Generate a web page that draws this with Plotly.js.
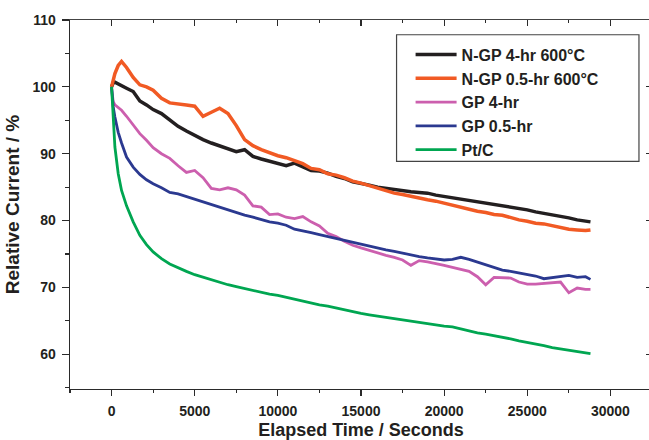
<!DOCTYPE html>
<html><head><meta charset="utf-8">
<script src="https://cdn.plot.ly/plotly-3.0.1.min.js"></script>
<style>html,body{margin:0;padding:0;overflow:hidden;background:#fff}#chart{width:660px;height:440px}</style>
</head><body><div id="chart"></div>
<script>
// Elapsed time (s)
const timeSec = [0,100,200,400,600,900,1300,1700,2100,2500,
  3000,3500,4000,4500,5000,5500,6000,6500,7000,7500,
  8000,8500,9000,9500,10000,10500,11000,11500,12000,12500,
  13000,13500,14000,14500,15000,15500,16000,16500,17000,17500,
  18000,18500,19000,19500,20000,20500,21000,21500,22000,22500,
  23000,23500,24000,24500,25000,25500,26000,26500,27000,27500,
  28000,28500,28800];

const ngp4hr = [100.0,100.6,100.7,100.4,100.2,99.8,99.3,97.9,97.3,96.6,
  96.0,95.1,94.1,93.4,92.7,92.1,91.6,91.2,90.7,90.3,
  90.6,89.6,89.2,88.9,88.5,88.2,88.6,88.0,87.5,87.4,
  87.1,86.6,86.3,85.8,85.6,85.3,85.0,84.8,84.6,84.5,
  84.3,84.2,84.1,83.8,83.6,83.4,83.3,83.1,82.9,82.7,
  82.5,82.3,82.0,81.8,81.6,81.3,81.1,80.9,80.6,80.4,
  80.1,79.9,79.8];

const ngp05hr = [100.0,101.0,102.0,103.2,103.8,102.9,101.4,100.3,100.0,99.5,
  98.3,97.6,97.5,97.3,97.1,95.6,96.2,96.8,96.0,94.2,
  92.1,91.2,90.6,90.1,89.7,89.4,89.0,88.5,87.8,87.6,
  87.0,86.8,86.4,85.9,85.6,85.2,84.8,84.5,84.1,83.9,
  83.6,83.4,83.1,82.9,82.6,82.3,82.0,81.6,81.4,81.2,
  80.9,80.8,80.4,80.1,79.9,79.6,79.5,79.2,78.9,78.7,
  78.6,78.5,78.6];

const gp4hr = [99.8,97.8,97.3,96.9,96.5,95.6,94.3,93.0,92.0,90.9,
  90.0,89.3,88.2,87.2,87.5,86.4,84.8,84.6,84.9,84.6,
  83.8,82.2,82.0,80.9,81.0,80.5,80.3,80.6,79.8,79.2,
  78.1,77.6,76.9,76.3,75.9,75.5,75.1,74.8,74.5,74.1,
  73.3,74.0,73.8,73.6,73.3,73.0,72.7,72.4,71.6,70.4,
  71.5,71.5,71.4,70.8,70.5,70.5,70.6,70.6,70.8,69.2,
  69.9,69.7,69.7];

const gp05hr = [100.0,97.0,95.5,93.2,91.6,89.5,88.0,86.9,86.1,85.5,
  84.9,84.2,84.0,83.6,83.1,82.7,82.3,82.0,81.6,81.2,
  80.8,80.5,80.1,79.8,79.6,79.3,78.7,78.5,78.2,77.9,
  77.6,77.3,77.0,76.7,76.5,76.2,75.9,75.6,75.4,75.1,
  74.8,74.6,74.4,74.3,74.1,74.2,74.5,74.2,73.8,73.5,
  73.0,72.6,72.4,72.2,71.9,71.7,71.3,71.5,71.6,71.8,
  71.5,71.6,71.2];

const ptc = [100.0,95.5,91.0,87.0,84.5,82.2,79.8,77.8,76.4,75.3,
  74.3,73.5,72.9,72.4,71.9,71.5,71.1,70.7,70.4,70.1,
  69.8,69.6,69.3,69.0,68.8,68.5,68.3,68.0,67.7,67.4,
  67.2,66.9,66.6,66.4,66.1,65.9,65.7,65.5,65.3,65.1,
  64.9,64.7,64.5,64.3,64.2,64.1,63.8,63.4,63.2,63.0,
  62.8,62.6,62.3,62.0,61.8,61.6,61.3,61.0,60.8,60.6,
  60.4,60.2,60.1];

const seriesNames = ['N-GP 4-hr 600°C','N-GP 0.5-hr 600°C','GP 4-hr','GP 0.5-hr','Pt/C'];
const seriesValues = [ngp4hr, ngp05hr, gp4hr, gp05hr, ptc];
const seriesColors = ['#231f20','#f15a24','#cc5fae','#2b3990','#00a651'];
const seriesWidths = [3.5, 3.5, 2.8, 2.8, 2.8];
// last series is plotted on the mirrored top/right axes (identical ranges) so that frame is drawn
const seriesXAxis = ['x','x','x','x','x2'];
const seriesYAxis = ['y','y','y','y','y2'];

const xRange = [-2500, 32500];
const yRange = [54.8, 110];

const FAM = '"Liberation Sans", Arial, sans-serif';
const axisColor = '#2a2a2a';

const traces = seriesValues.map((vals, i) => ({
  type: 'scatter', mode: 'lines',
  x: timeSec, y: vals, name: seriesNames[i],
  xaxis: seriesXAxis[i], yaxis: seriesYAxis[i],
  line: {color: seriesColors[i], width: seriesWidths[i]}
}));

const tickFont = {family: FAM, size: 14, color: '#231f20', weight: 700};

const layout = {
  width: 660, height: 440,
  margin: {l: 70, r: 8, t: 19.5, b: 51},
  paper_bgcolor: '#fff', plot_bgcolor: '#fff',
  showlegend: true,
  xaxis: {
    range: xRange, tickmode: 'linear', tick0: 0, dtick: 5000, tickformat: 'd',
    ticks: 'outside', ticklen: 6, tickwidth: 1.2, tickcolor: axisColor,
    showline: true, linecolor: axisColor, linewidth: 1.3,
    showgrid: false, zeroline: false, tickfont: tickFont, ticklabelstandoff: 3,
    minor: {tick0: 0, dtick: 2500, ticks: 'outside', ticklen: 3, tickwidth: 1.2, tickcolor: axisColor, showgrid: false},
    title: {text: 'Elapsed Time / Seconds', font: {family: FAM, size: 18, color: '#231f20', weight: 700}, standoff: 15}
  },
  yaxis: {
    range: yRange, tickmode: 'linear', tick0: 0, dtick: 10,
    ticks: 'outside', ticklen: 7, tickwidth: 1.2, tickcolor: axisColor,
    showline: true, linecolor: axisColor, linewidth: 1.3,
    showgrid: false, zeroline: false, tickfont: tickFont, ticklabelstandoff: 3,
    minor: {tick0: 0, dtick: 5, ticks: 'outside', ticklen: 4, tickwidth: 1.2, tickcolor: axisColor, showgrid: false},
    title: {text: 'Relative Current / %', font: {family: FAM, size: 19, color: '#231f20', weight: 700}, standoff: 8}
  },
  xaxis2: {
    overlaying: 'x', side: 'top', anchor: 'y', range: xRange,
    tickmode: 'linear', tick0: 0, dtick: 5000,
    ticks: 'inside', ticklen: 6, tickwidth: 1.2, tickcolor: axisColor,
    showticklabels: false, showline: true, linecolor: '#444', linewidth: 1.3,
    showgrid: false, zeroline: false,
    minor: {tick0: 0, dtick: 2500, ticks: 'inside', ticklen: 3, tickwidth: 1.2, tickcolor: axisColor, showgrid: false}
  },
  yaxis2: {
    overlaying: 'y', side: 'right', anchor: 'x', range: yRange,
    tickmode: 'linear', tick0: 0, dtick: 10,
    ticks: 'inside', ticklen: 6, tickwidth: 1.2, tickcolor: axisColor,
    showticklabels: false, showline: true, linecolor: axisColor, linewidth: 1.3,
    showgrid: false, zeroline: false,
    minor: {tick0: 0, dtick: 5, ticks: 'inside', ticklen: 3, tickwidth: 1.2, tickcolor: axisColor, showgrid: false}
  },
  legend: {
    x: 0.5852, y: 0.9524, xanchor: 'left', yanchor: 'top',
    bgcolor: 'rgba(0,0,0,0)', borderwidth: 0, itemwidth: 41,
    font: {family: FAM, size: 16, color: '#231f20', weight: 700},
    traceorder: 'normal'
  },
  shapes: [{
    type: 'rect', xref: 'paper', yref: 'paper',
    x0: 0.5611, x1: 0.9776, y0: 0.617, y1: 0.96,
    line: {color: '#444', width: 1.2}, fillcolor: 'rgba(0,0,0,0)', layer: 'above'
  }]
};

Plotly.newPlot('chart', traces, layout, {displayModeBar: false, staticPlot: true});
</script>
</body></html>
